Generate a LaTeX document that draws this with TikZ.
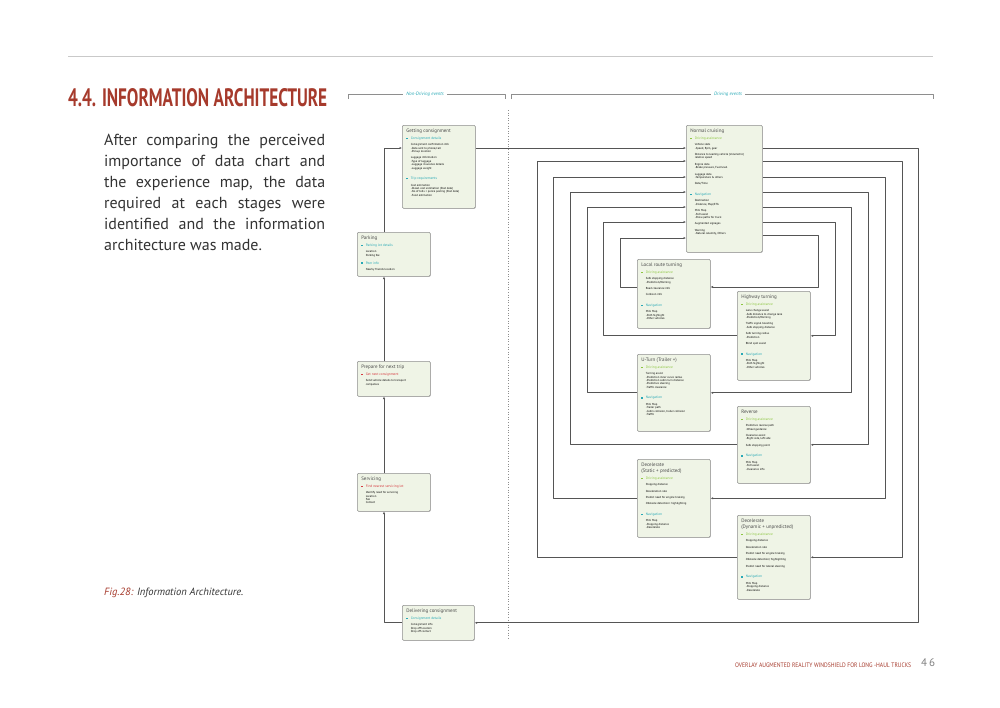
\documentclass[tikz,border=0pt]{standalone}
\usepackage{fontspec}
\setmainfont{PT Sans}
\usetikzlibrary{arrows.meta,shadows}

\definecolor{pagered}{HTML}{A63A2C}
\definecolor{ruleline}{HTML}{C9C9C9}
\definecolor{bodygray}{HTML}{333333}
\definecolor{boxfill}{HTML}{EFF4E6}
\definecolor{boxdraw}{HTML}{8E8E8E}
\definecolor{boxtitle}{HTML}{4A4A4A}
\definecolor{linkgray}{HTML}{555555}
\definecolor{assistgreen}{HTML}{8DC641}
\definecolor{navteal}{HTML}{27A9B6}
\definecolor{alertred}{HTML}{D63A3F}

% box text helpers
\newcommand{\bxtitle}[1]{{\fontsize{5}{6}\selectfont\color{boxtitle}#1\par}}
\newcommand{\bxhead}[3][4.5pt]{\vspace{#1}{\fontsize{3.5}{6}\selectfont\color{#2}%
  \makebox[4.5pt][l]{\raisebox{0.3pt}{\rule{1.5pt}{1.5pt}}}#3\par}}
\newcommand{\bxbody}[1]{\vspace{3pt}{\fontsize{2.9}{3.4}\selectfont\color{black}%
  \leftskip=4.5pt\relax #1\par}}
\newcommand{\infobox}[6]{%
  \node[infobox] (#1) at (#2,#3)
    {\parbox[t][\dimexpr#5pt-7pt\relax][t]{\dimexpr#4pt-8pt\relax}{\raggedright #6}};}

\begin{document}
\begin{tikzpicture}[
  x=1pt,
  y=-1pt,
  line join=round,
  infobox/.style={draw=boxdraw,fill=boxfill,line width=0.6pt,rounded corners=1.2pt,
    inner xsep=4pt,inner ysep=3.5pt,anchor=north west,
    drop shadow={shadow xshift=0.6pt,shadow yshift=-0.6pt,opacity=0.25}},
  link/.style={draw=linkgray,line width=0.65pt,-{Latex[length=2.4pt,width=2.2pt]}},
  bracket/.style={draw=boxdraw,line width=0.7pt},
  evlabel/.style={fill=white,inner xsep=3pt,inner ysep=1pt,text=navteal,
    font=\fontsize{4.8}{5}\selectfont\itshape},
  sepline/.style={draw=boxdraw,line width=0.6pt,dotted}
]
  % Page frame at the size of the scanned page.
  \useasboundingbox (0,0) rectangle (1000,707);
  \fill[white] (0,0) rectangle (1000,707);

  % Page header, text column and caption.
  \draw[draw=ruleline,line width=0.8pt] (68,56) -- (933,56);
  \node[anchor=south west,inner sep=0,text=pagered] (title) at (68,107)
    {\resizebox{259pt}{18pt}{\bfseries 4.4. INFORMATION ARCHITECTURE}};
  \node[anchor=north west,inner sep=0,align=left,text=bodygray,
    font=\fontsize{16}{21}\selectfont] (intro) at (104,133.5)
    {\makebox[221pt][s]{After comparing the perceived}\\
     \makebox[221pt][s]{importance of data chart and}\\
     \makebox[221pt][s]{the experience map, the data}\\
     \makebox[221pt][s]{required at each stages were}\\
     \makebox[221pt][s]{identified and the information}\\
     architecture was made.};
  \node[anchor=west,inner sep=0,text=bodygray,font=\fontsize{10.5}{12}\selectfont\itshape]
    (caption) at (104,593) {{\color{pagered}Fig.28:} Information Architecture.};
  \node[anchor=west,inner sep=0,text=pagered] (runner) at (735,665)
    {\resizebox{176pt}{4.6pt}{OVERLAY AUGMENTED REALITY WINDSHIELD FOR LONG -HAUL TRUCKS}};
  \node[anchor=west,inner sep=0,text=gray,font=\fontsize{11}{11}\selectfont]
    (pageno) at (921,663) {4\,6};

  % Event group brackets and the divider.
  \draw[bracket] (348,99) -- (348,94) -- (505,94) -- (505,99);
  \node[evlabel] (ndlabel) at (425,94) {Non-Driving events};
  \draw[bracket] (511,99) -- (511,94) -- (933,94) -- (933,99);
  \node[evlabel] (dlabel) at (728,94) {Driving events};
  \draw[sepline] (508,110) -- (508,640);

  % Non-driving stages.
  \infobox{gc}{402}{125}{73}{83}{%
    \bxtitle{Getting consignment}
    \bxhead[1pt]{navteal}{Consignment details}
    \bxbody{Consignment confirmation info\\-Data sent to phone/call\\-Pickup location}
    \bxbody{Luggage information\\-Type of luggage\\-Luggage insurance details\\-Luggage weight}
    \bxhead{navteal}{Trip requirements}
    \bxbody{Cost estimation\\-Diesel cost estimation (Past data)\\-No of tolls + police posting (Past data)\\-Food estimation}}
  \infobox{park}{357}{232}{73}{44}{%
    \bxtitle{Parking}
    \bxhead[1pt]{navteal}{Parking lot details}
    \bxbody{Location\\Parking fee}
    \bxhead[2pt]{navteal}{Peer info}
    \bxbody{Nearby friends location}}
  \infobox{prep}{357}{361}{73}{35}{%
    \bxtitle{Prepare for next trip}
    \bxhead[1pt]{alertred}{Get next consignment}
    \bxbody{Send vehicle details to transport\\companies}}
  \infobox{serv}{357}{473}{73}{38}{%
    \bxtitle{Servicing}
    \bxhead[1pt]{alertred}{Find nearest servicing lot}
    \bxbody{Identify need for servicing\\Location\\Fee\\Contact}}
  \infobox{deliv}{402}{605}{72}{35}{%
    \bxtitle{Delivering consignment}
    \bxhead[1pt]{navteal}{Consignment details}
    \bxbody{Consignment info\\Drop off location\\Drop off contact}}

  % Driving stages.
  \infobox{nc}{686}{125}{76}{127}{%
    \bxtitle{Normal cruising}
    \bxhead[1pt]{assistgreen}{Driving assistance}
    \bxbody{Vehicle stats\\-Speed, Rpm, gear}
    \bxbody{Distance to leading vehicle (Volumetric)\\relative speed}
    \bxbody{Engine data\\-Brake pressure, Fuel level}
    \bxbody{Luggage data\\-Temperature \& others}
    \bxbody{Date/Time}
    \bxhead{navteal}{Navigation}
    \bxbody{Destination\\-Distance, Map/ETA}
    \bxbody{Mini Map\\-360 assist\\-Show paths for truck}
    \bxbody{Augmented signages}
    \bxbody{Warning\\-Natural calamity, Others}}
  \infobox{loc}{637}{259}{73}{69}{%
    \bxtitle{Local route turning}
    \bxhead[1pt]{assistgreen}{Driving assistance}
    \bxbody{Safe stopping distance\\-Prediction/Warning}
    \bxbody{Road clearance info}
    \bxbody{Collision info}
    \bxhead{navteal}{Navigation}
    \bxbody{Mini Map\\-Path highlight\\-Other vehicles}}
  \infobox{hwy}{737}{291}{73}{89}{%
    \bxtitle{Highway turning}
    \bxhead[1pt]{assistgreen}{Driving assistance}
    \bxbody{Lane change assist\\-Safe distance to change lane\\-Prediction/Warning}
    \bxbody{Traffic signal boosting\\-Safe stopping distance}
    \bxbody{Safe turning radius\\-Prediction}
    \bxbody{Blind spot assist}
    \bxhead{navteal}{Navigation}
    \bxbody{Mini Map\\-Path highlight\\-Other vehicles}}
  \infobox{uturn}{637}{354}{73}{77}{%
    \bxtitle{U-Turn (Trailer +)}
    \bxhead[1pt]{assistgreen}{Driving assistance}
    \bxbody{Turning assist\\-Prediction inner curve radius\\-Prediction cabin turn distance\\-Predictive steering\\-Traffic clearance}
    \bxhead{navteal}{Navigation}
    \bxbody{Mini Map\\-Trailer path\\-Cabin collision, trailer collision\\-Traffic}}
  \infobox{rev}{737}{406}{73}{77}{%
    \bxtitle{Reverse}
    \bxhead[1pt]{assistgreen}{Driving assistance}
    \bxbody{Predictive reverse path\\-Wheel guidance}
    \bxbody{Clearance assist\\-Right side, left side}
    \bxbody{Safe stopping point}
    \bxhead{navteal}{Navigation}
    \bxbody{Mini Map\\-360 assist\\-Clearance info}}
  \infobox{decs}{637}{459}{73}{78}{%
    \bxtitle{Decelerate\\(Static + predicted)}
    \bxhead[1pt]{assistgreen}{Driving assistance}
    \bxbody{Stopping distance}
    \bxbody{Deceleration rate}
    \bxbody{Predict need for engine braking}
    \bxbody{Obstacle detection+ highlighting}
    \bxhead{navteal}{Navigation}
    \bxbody{Mini Map\\-Stopping distance\\-Decelerate}}
  \infobox{decd}{737}{515}{73}{84}{%
    \bxtitle{Decelerate\\(Dynamic + unpredicted)}
    \bxhead[1pt]{assistgreen}{Driving assistance}
    \bxbody{Stopping distance}
    \bxbody{Deceleration rate}
    \bxbody{Predict need for engine braking}
    \bxbody{Obstacle detection/ highlighting}
    \bxbody{Predict need for lateral steering}
    \bxhead{navteal}{Navigation}
    \bxbody{Mini Map\\-Stopping distance\\-Decelerate}}

  % Non-driving chain runs up the left spine.
  \coordinate (spine) at (384,0);
  \draw[link] (deliv.west) -| (spine |- serv.south);
  \draw[link] (spine |- serv.north) -- (spine |- prep.south);
  \draw[link] (spine |- prep.north) -- (spine |- park.south);
  \draw[link] (spine |- park.north) |- (gc.west |- 0,148);

  % Into and out of the driving events.
  \draw[link] (gc.east |- 0,148) -- (nc.west |- 0,148);
  \draw[link] (nc.east |- 0,148) -| (deliv.east -| 918,0) -- (deliv.east);

  % Normal cruising out to each event on the right rails.
  \foreach \ev/\rx/\ny in {decd/902/161,decs/885/177,rev/868/192,uturn/851/207,hwy/835/222} {
    \draw[link] (nc.east |- 0,\ny) -| (\ev.east -| \rx,0) -- (\ev.east);
  }
  \draw[link] (nc.east |- 0,235) -| (818,287) -- (loc.east |- 0,287);

  % Each event back to normal cruising on the left rails.
  \foreach \ev/\rx/\ny in {decd/537/161,decs/553/177,rev/570/192,uturn/587/207,hwy/603/222} {
    \draw[link] (\ev.west) -| (\rx,\ny) -- (nc.west |- 0,\ny);
  }
  \draw[link] (loc.west |- 0,287) -| (620,238) -- (nc.west |- 0,238);
\end{tikzpicture}
\end{document}
